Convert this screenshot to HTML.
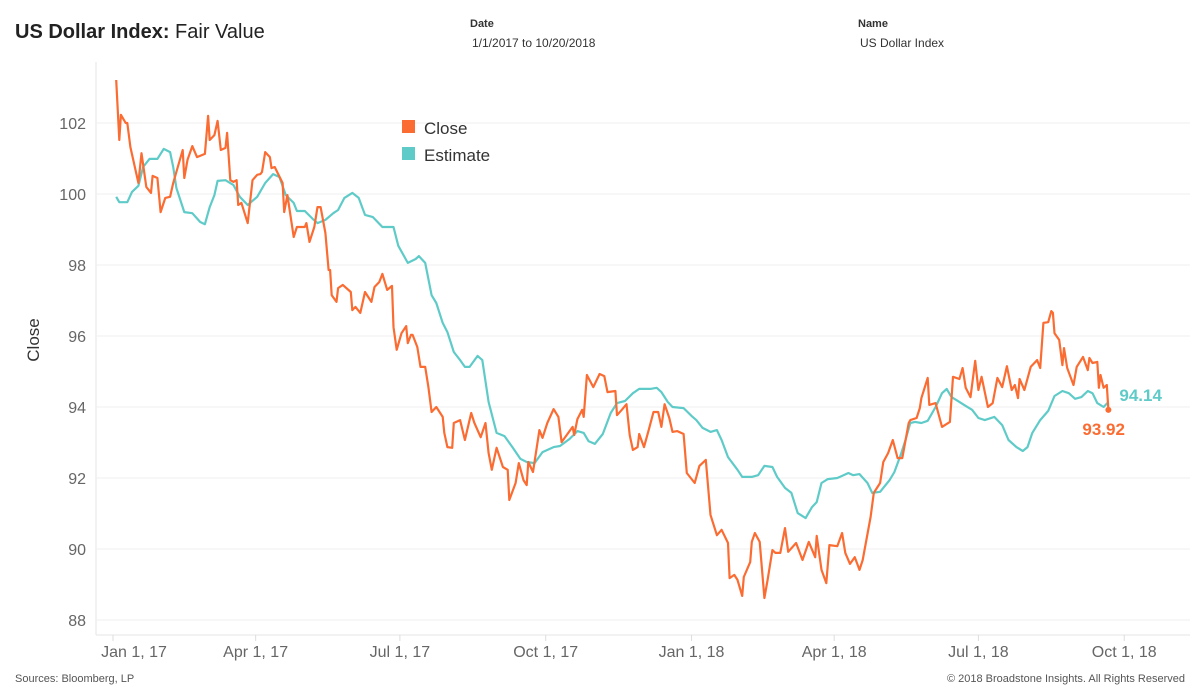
<!DOCTYPE html>
<html><head><meta charset="utf-8"><style>
body{margin:0;background:#fff;font-family:"Liberation Sans",sans-serif;}
#wrap{position:relative;width:1200px;height:700px;overflow:hidden;}
.t{position:absolute;white-space:nowrap;}
</style></head><body>
<div id="wrap">
<div class="t" style="left:15px;top:21px;font-size:20px;color:#222;"><span style="font-weight:bold;">US Dollar Index:</span> Fair Value</div>
<div class="t" style="left:470px;top:18px;font-size:11px;font-weight:bold;color:#333;">Date</div>
<div class="t" style="left:472px;top:36px;font-size:12px;color:#333;">1/1/2017 to 10/20/2018</div>
<div class="t" style="left:858px;top:18px;font-size:11px;font-weight:bold;color:#333;">Name</div>
<div class="t" style="left:860px;top:36px;font-size:12px;color:#333;">US Dollar Index</div>
<div class="t" style="left:15px;top:673px;font-size:11px;color:#555;">Sources: Bloomberg, LP</div>
<div class="t" style="right:15px;top:673px;font-size:11px;color:#555;">© 2018 Broadstone Insights. All Rights Reserved</div>
<svg id="chart" width="1200" height="700" style="position:absolute;left:0;top:0;"></svg>
</div>
<script>
const yTicks=[88,90,92,94,96,98,100,102];
const xTickLabels=["Jan 1, 17","Apr 1, 17","Jul 1, 17","Oct 1, 17","Jan 1, 18","Apr 1, 18","Jul 1, 18","Oct 1, 18"];
const xTickDays=[0,90,181,273,365,455,546,638];
const closeDays=[2,4,5,8,9,11,16,18,21,24,25,28,30,33,36,38,44,45,47,50,53,58,60,61,64,66,68,71,72,74,76,78,79,81,85,88,91,93,94,96,99,100,102,107,108,110,114,116,121,122,124,127,129,131,134,136,137,138,141,142,145,150,151,153,156,159,163,165,168,170,173,176,177,179,182,185,186,188,189,192,194,197,199,201,204,208,209,211,214,215,219,222,226,228,232,235,237,239,242,246,249,250,254,256,259,261,262,265,269,271,274,278,281,283,290,291,293,296,297,299,303,307,310,312,317,318,321,324,326,328,331,332,335,338,341,344,346,348,351,353,356,360,362,367,370,374,377,381,384,388,389,392,394,397,398,402,403,405,408,411,413,416,418,421,424,426,431,435,439,443,444,447,450,452,457,460,462,465,468,471,473,478,480,484,486,489,492,495,498,502,503,507,509,510,514,515,519,523,528,530,534,536,538,541,544,546,548,552,555,558,561,564,567,569,571,572,575,579,583,585,587,590,592,593,594,597,599,600,602,606,608,612,615,616,618,621,622,623,625,627,628];
const closeValues=[103.21,101.52,102.23,102.0,102.0,101.32,100.31,101.15,100.2,100.03,100.51,100.45,99.49,99.89,99.92,100.31,101.24,100.45,100.96,101.35,101.04,101.13,102.2,101.52,101.66,102.06,101.24,101.3,101.72,100.39,100.34,100.39,99.69,99.75,99.18,100.39,100.54,100.56,100.62,101.18,101.04,100.73,100.76,100.31,99.49,99.97,98.79,99.07,99.07,99.18,98.65,99.07,99.63,99.63,98.9,97.86,97.86,97.15,96.96,97.35,97.44,97.24,96.73,96.82,96.65,97.24,96.96,97.38,97.52,97.75,97.3,97.41,96.25,95.61,96.08,96.28,95.8,96.03,96.03,95.69,95.13,95.13,94.56,93.86,94.0,93.72,93.27,92.87,92.85,93.55,93.63,93.07,93.83,93.55,93.15,93.55,92.7,92.23,92.85,92.31,92.23,91.38,91.86,92.42,91.94,91.8,92.45,92.17,93.35,93.13,93.55,93.94,93.72,93.01,93.44,93.21,93.66,93.92,93.72,94.9,94.56,94.93,94.87,94.42,94.45,93.77,93.92,94.08,93.21,92.79,92.87,93.24,92.87,93.35,93.86,93.86,93.44,94.08,93.69,93.3,93.32,93.24,92.14,91.86,92.34,92.51,90.96,90.39,90.54,90.17,89.18,89.27,89.13,88.68,89.21,89.63,90.2,90.45,90.2,88.62,89.13,89.97,89.89,89.89,90.59,89.92,90.17,89.69,90.2,89.77,90.37,89.41,89.04,90.11,90.08,90.45,89.89,89.58,89.77,89.41,89.69,90.9,91.58,91.86,92.45,92.7,93.07,92.56,92.56,93.55,93.63,93.69,93.97,94.25,94.82,94.06,94.11,93.44,93.58,94.85,94.79,95.1,94.54,94.28,95.3,94.48,94.85,94.0,94.11,94.82,94.56,95.15,94.48,94.62,94.25,94.79,94.48,95.13,95.32,95.1,96.37,96.39,96.7,96.65,96.08,95.89,95.18,95.66,95.1,94.62,95.13,95.41,95.04,95.38,95.24,95.27,94.54,94.9,94.54,94.62,93.92];
const estDays=[2,4,9,12,16,19,23,28,32,36,38,40,45,50,55,58,61,64,66,71,76,80,85,91,96,101,105,109,114,116,121,126,129,134,139,142,146,151,155,159,164,170,177,180,186,191,193,197,201,204,208,211,215,219,222,225,230,233,237,242,247,252,257,261,266,271,278,282,288,293,297,300,304,309,314,318,323,328,332,339,343,346,350,353,360,365,368,372,377,381,384,388,394,397,403,407,411,416,419,424,428,432,437,441,444,447,451,457,460,464,467,471,476,479,484,490,493,497,500,503,506,510,514,519,523,526,529,532,538,542,546,550,556,561,565,570,574,577,580,585,590,594,599,603,607,611,615,618,621,625,628];
const estValues=[99.92,99.77,99.77,100.06,100.23,100.76,100.99,100.99,101.27,101.18,100.76,100.17,99.49,99.46,99.21,99.15,99.63,99.97,100.37,100.39,100.25,99.92,99.69,99.92,100.31,100.56,100.48,99.97,99.75,99.52,99.52,99.3,99.18,99.27,99.46,99.55,99.89,100.03,99.89,99.41,99.35,99.07,99.07,98.54,98.06,98.17,98.25,98.06,97.15,96.93,96.37,96.11,95.55,95.32,95.13,95.13,95.44,95.32,94.14,93.27,93.18,92.87,92.54,92.45,92.42,92.73,92.87,92.9,93.1,93.32,93.27,93.04,92.96,93.24,93.83,94.11,94.17,94.39,94.51,94.51,94.54,94.42,94.14,94.0,93.97,93.75,93.63,93.41,93.3,93.35,93.07,92.59,92.23,92.03,92.03,92.08,92.34,92.31,92.03,91.72,91.58,91.01,90.87,91.18,91.32,91.86,91.97,92.0,92.06,92.14,92.08,92.11,91.86,91.58,91.61,91.94,92.17,92.65,93.07,93.55,93.58,93.55,93.61,94.0,94.39,94.51,94.28,94.2,94.03,93.92,93.69,93.63,93.72,93.49,93.07,92.87,92.76,92.87,93.27,93.63,93.89,94.31,94.45,94.39,94.23,94.28,94.45,94.39,94.11,94.0,94.14];

const NS="http://www.w3.org/2000/svg";
const svg=document.getElementById('chart');
const X=d=>113+d*1.585;
const Y=v=>123+(102-v)*35.5;
function mk(tag,attrs){const e=document.createElementNS(NS,tag);for(const k in attrs)e.setAttribute(k,attrs[k]);svg.appendChild(e);return e;}
// plot border
const pb=mk('line',{x1:96,x2:96,y1:62,y2:635,stroke:'#e6e6e6','stroke-width':1});


const xa=mk('line',{x1:96,x2:1190,y1:635,y2:635,stroke:'#e6e6e6','stroke-width':1});


yTicks.forEach(v=>{
  const g=mk('line',{x1:96,x2:1190,y1:Y(v),y2:Y(v),stroke:'#efefef','stroke-width':1});
  
  
  const t=mk('text',{x:86,y:Y(v)+6,'text-anchor':'end','font-size':16,fill:'#666','font-family':'Liberation Sans, sans-serif'});
  t.textContent=v;
  
  
});
const yt=mk('text',{x:0,y:0,transform:'translate(39,340) rotate(-90)','text-anchor':'middle','font-size':17,fill:'#333','font-family':'Liberation Sans, sans-serif'});
yt.textContent='Close';


xTickDays.forEach((d,i)=>{
  const tk=mk('line',{x1:X(d),x2:X(d),y1:635,y2:641,stroke:'#ddd','stroke-width':1});
  
  
  const cx=i===0?X(d)+21:X(d);
  const t=mk('text',{x:cx,y:657,'text-anchor':'middle','font-size':16,fill:'#666','font-family':'Liberation Sans, sans-serif'});
  t.textContent=xTickLabels[i];
  
  
});
function line(days,vals,color,name){
  const p=mk('path',{d:days.map((d,i)=>(i?'L':'M')+X(d).toFixed(1)+' '+Y(vals[i]).toFixed(1)).join(''),fill:'none',stroke:color,'stroke-width':2.2,'stroke-linejoin':'round'});
  
  
}
line(estDays,estValues,'#5fcbc8','estimate-line');
line(closeDays,closeValues,'#fb6c32','close-line');
const lc=closeDays.length-1, le=estDays.length-1;
const dot=mk('circle',{cx:X(closeDays[lc]),cy:Y(closeValues[lc]),r:3,fill:'#fb6c32'});


const el=mk('text',{x:X(estDays[le])+11,y:Y(estValues[le])-1,'font-size':17,'font-weight':'bold',fill:'#5fcbc8','font-family':'Liberation Sans, sans-serif'});
el.textContent=estValues[le].toFixed(2);


const cl=mk('text',{x:X(closeDays[lc])-26,y:Y(closeValues[lc])+25,'font-size':17,'font-weight':'bold',fill:'#fb6c32','font-family':'Liberation Sans, sans-serif'});
cl.textContent=closeValues[lc].toFixed(2);


// legend
const r1=mk('rect',{x:402,y:120,width:13,height:13,fill:'#fb6c32'});


const l1=mk('text',{x:424,y:134,'font-size':17,fill:'#333','font-family':'Liberation Sans, sans-serif'});
l1.textContent='Close';


const r2=mk('rect',{x:402,y:147,width:13,height:13,fill:'#5fcbc8'});


const l2=mk('text',{x:424,y:161,'font-size':17,fill:'#333','font-family':'Liberation Sans, sans-serif'});
l2.textContent='Estimate';


</script>
</body></html>
